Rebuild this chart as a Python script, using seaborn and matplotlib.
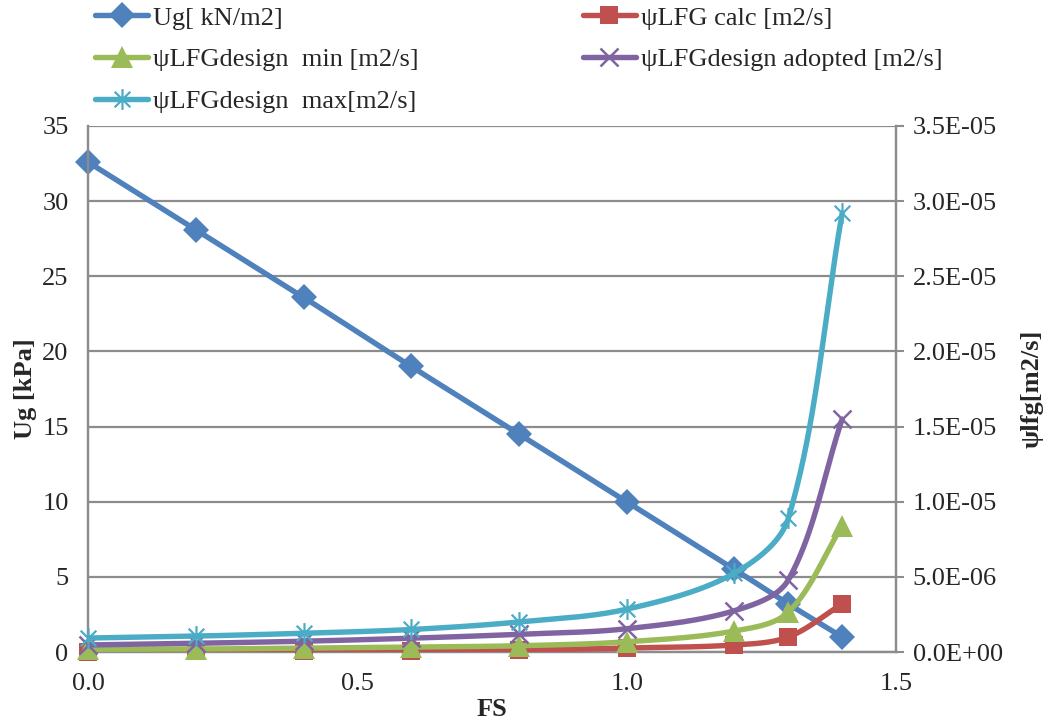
import numpy as np
import pandas as pd
import matplotlib
matplotlib.use("Agg")
import matplotlib.pyplot as plt
from matplotlib.lines import Line2D
from matplotlib.path import Path
import seaborn as sns

# Factor of safety values
fs = [0.0, 0.2, 0.4, 0.6, 0.8, 1.0, 1.2, 1.3, 1.4]

# Ug [kN/m2] on the left axis
ug = [32.6, 28.1, 23.6, 19.0, 14.5, 10.0, 5.5, 3.2, 1.0]

# Landfill gas flow values [m2/s] on the right axis
psi_calc = [0.03e-6, 0.04e-6, 0.06e-6, 0.08e-6, 0.13e-6, 0.27e-6, 0.47e-6, 1.0e-6, 3.2e-6]
psi_min = [0.18e-6, 0.20e-6, 0.26e-6, 0.33e-6, 0.42e-6, 0.68e-6, 1.40e-6, 2.65e-6, 8.4e-6]
psi_adopted = [0.47e-6, 0.58e-6, 0.72e-6, 0.92e-6, 1.18e-6, 1.55e-6, 2.75e-6, 4.8e-6, 15.5e-6]
psi_max = [0.93e-6, 1.06e-6, 1.25e-6, 1.50e-6, 2.0e-6, 2.85e-6, 5.25e-6, 8.9e-6, 29.2e-6]

labels = ["Ug[ kN/m2]", "ψLFG calc [m2/s]", "ψLFGdesign  min [m2/s]",
          "ψLFGdesign adopted [m2/s]", "ψLFGdesign  max[m2/s]"]
colors = ["#4F81BD", "#C0504D", "#9BBB59", "#8064A2", "#4BACC6"]

ug_ticks = [0, 5, 10, 15, 20, 25, 30, 35]
psi_ticks = [0, 5e-6, 1e-5, 1.5e-5, 2e-5, 2.5e-5, 3e-5, 3.5e-5]
psi_tick_labels = ["0.0E+00", "5.0E-06", "1.0E-05", "1.5E-05", "2.0E-05",
                   "2.5E-05", "3.0E-05", "3.5E-05"]
fs_ticks = [0.0, 0.5, 1.0, 1.5]


def smooth(axis, x, y, n=60):
    """Bezier smoothing through every point, computed in screen space with
    control arms scaled by neighbouring chord lengths."""
    pts = axis.transData.transform(np.column_stack([x, y]))
    P = np.vstack([pts[0], pts, pts[-1]])
    t = np.linspace(0, 1, n)[:, None]
    out = []
    for i in range(1, len(P) - 2):
        p0, p1, p2, p3 = P[i - 1], P[i], P[i + 1], P[i + 2]
        d01 = np.hypot(*(p1 - p0))
        d12 = np.hypot(*(p2 - p1))
        d23 = np.hypot(*(p3 - p2))
        f1 = d12 / (3 * (d01 + d12)) if d01 + d12 > 0 else 0
        f2 = d12 / (3 * (d12 + d23)) if d12 + d23 > 0 else 0
        c1 = p1 + (p2 - p0) * f1
        c2 = p2 - (p3 - p1) * f2
        b = (1 - t) ** 3 * p1 + 3 * (1 - t) ** 2 * t * c1 + 3 * (1 - t) * t ** 2 * c2 + t ** 3 * p2
        out.append(b)
    out = np.vstack(out)
    data = axis.transData.inverted().transform(out)
    return data[:, 0], data[:, 1]


# Excel-like star: vertical bar plus an X
star = Path([(0, -1), (0, 1), (-0.75, -0.75), (0.75, 0.75), (-0.75, 0.75), (0.75, -0.75)],
            [Path.MOVETO, Path.LINETO, Path.MOVETO, Path.LINETO, Path.MOVETO, Path.LINETO])

sns.set_style("white")
plt.rcParams["font.family"] = ["Liberation Serif", "DejaVu Serif"]

fig = plt.figure(figsize=(10.48, 7.2), dpi=100)
ax = fig.add_axes([0.084, 0.0944, 0.771, 0.7306])
ax2 = ax.twinx()

lw = 3.9
fsz = 19

markers = {
    0: dict(marker="D", ms=13, mfc=colors[0], mec=colors[0], mew=0),
    1: dict(marker="s", ms=13, mfc=colors[1], mec=colors[1], mew=0),
    2: dict(marker="^", ms=16, mfc=colors[2], mec=colors[2], mew=0),
    3: dict(marker="x", ms=13, mfc="none", mec=colors[3], mew=1.8),
    4: dict(marker=star, ms=15, mfc="none", mec=colors[4], mew=1.6),
}

grid_c = "#8C8C8C"
ax.set_xlim(0, 1.5)
ax.set_ylim(0, 35)
ax2.set_ylim(0, 3.5e-5)

# Left axis: Ug
sx, sy = smooth(ax, fs, ug)
sns.lineplot(x=sx, y=sy, ax=ax, color=colors[0], lw=lw, sort=False, estimator=None)
ax.plot(fs, ug, ls="none", **markers[0], zorder=5, clip_on=False)

# Right axis: gas flow series
series = [psi_calc, psi_min, psi_adopted, psi_max]
for k, vals in enumerate(series, start=1):
    sx, sy = smooth(ax2, fs, vals)
    sns.lineplot(x=sx, y=sy, ax=ax2, color=colors[k], lw=lw, sort=False, estimator=None,
                 zorder=2 + k)
    ax2.plot(fs, vals, ls="none", **markers[k], zorder=3 + k, clip_on=False)

ax.set_xlim(0, 1.5)
ax.set_ylim(0, 35)
ax2.set_ylim(0, 3.5e-5)
ax.set_xticks(fs_ticks)
ax.set_xticklabels([f"{v:.1f}" for v in fs_ticks], fontsize=fsz)
ax.set_yticks(ug_ticks)
ax.set_yticklabels([str(v) for v in ug_ticks], fontsize=fsz)
ax2.set_yticks(psi_ticks)
ax2.set_yticklabels(psi_tick_labels, fontsize=fsz)

ax.grid(axis="y", color=grid_c, lw=1.6)
ax.set_axisbelow(True)
for a in (ax, ax2):
    a.spines["top"].set_visible(False)
    for side in ("left", "right", "bottom"):
        a.spines[side].set_color(grid_c)
        a.spines[side].set_linewidth(1.6)
ax.tick_params(axis="x", direction="out", length=6, width=1.5, color=grid_c, pad=9)
ax.tick_params(axis="y", length=0, pad=14)
ax2.tick_params(axis="y", direction="out", length=6, width=1.5, color=grid_c, pad=6)

ax.set_xlabel("FS", fontsize=fsz, fontweight="bold", labelpad=2)
ax.set_ylabel("Ug [kPa]", fontsize=fsz, fontweight="bold", labelpad=4)
ax2.set_ylabel("ψlfg[m2/s]", fontsize=fsz, fontweight="bold", labelpad=13)

handles = [Line2D([], [], color=colors[i], lw=lw, **markers[i]) for i in range(5)]
order = [0, 2, 4, 1, 3]
fig.legend([handles[i] for i in order], [labels[i] for i in order],
           loc="upper left", bbox_to_anchor=(0.081, 1.006), ncol=2, frameon=False,
           fontsize=fsz, handlelength=2.0, handletextpad=0.2, columnspacing=6.2,
           labelspacing=0.69, borderaxespad=0)

fig.savefig("out.png", dpi=100)
